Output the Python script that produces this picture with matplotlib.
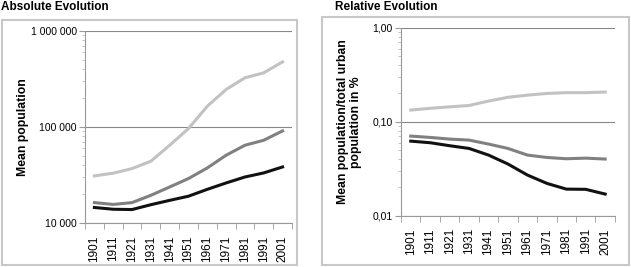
import matplotlib.pyplot as plt
from matplotlib.patches import Rectangle
from matplotlib.ticker import FixedLocator, LogLocator, NullFormatter

plt.rcParams['font.family'] = ['Liberation Sans', 'DejaVu Sans']

years = ['1901', '1911', '1921', '1931', '1941', '1951', '1961', '1971', '1981', '1991', '2001']

# absolute mean population
abs_light = [30900, 33000, 36800, 43900, 64400, 96000, 164000, 245000, 324000, 365000, 475000]
abs_mid = [16300, 15600, 16300, 19400, 23700, 29000, 37400, 50700, 64400, 72600, 90800]
abs_dark = [14500, 13900, 13800, 15500, 17200, 19000, 22400, 26100, 30100, 33200, 38300]

# relative share of total urban population
rel_light = [0.133, 0.139, 0.144, 0.149, 0.166, 0.182, 0.192, 0.200, 0.204, 0.204, 0.207]
rel_mid = [0.0704, 0.0681, 0.0654, 0.0638, 0.0579, 0.0520, 0.0442, 0.0417, 0.0404, 0.0410, 0.0401]
rel_dark = [0.0622, 0.0598, 0.0556, 0.0520, 0.0442, 0.0355, 0.0271, 0.0221, 0.0192, 0.0191, 0.0170]

colors = ['#c2c2c2', '#808080', '#111111']


def style_axis(ax, ymin, ymax, yticks, ylabels, ylabel):
    ax.set_yscale('log')
    ax.set_ylim(ymin, ymax)
    ax.set_xlim(-0.5, len(years) - 0.5)
    ax.set_xticks(range(len(years)))
    ax.set_xticklabels(years, rotation=90, fontsize=8.5)
    ax.xaxis.set_minor_locator(FixedLocator([i - 0.5 for i in range(len(years) + 1)]))
    ax.tick_params(axis='x', which='major', length=0, pad=9)
    ax.tick_params(axis='x', which='minor', length=4, color='#999999', direction='out')
    ax.set_yticks(yticks)
    ax.set_yticklabels(ylabels, fontsize=7.5)
    ax.yaxis.set_minor_locator(LogLocator(base=10, subs=range(2, 10)))
    ax.yaxis.set_minor_formatter(NullFormatter())
    ax.tick_params(axis='y', which='major', length=4, color='#999999', direction='out', pad=2)
    ax.tick_params(axis='y', which='minor', length=2, color='#bbbbbb', direction='out')
    ax.grid(True, axis='y', which='major', color='#888888', linewidth=0.8)
    for side in ['top', 'right']:
        ax.spines[side].set_visible(False)
    for side in ['left', 'bottom']:
        ax.spines[side].set_color('#999999')
    ax.set_ylabel(ylabel, fontsize=8.8, fontweight='bold')


fig = plt.figure(figsize=(6.31, 2.67), dpi=100)

# panel frames
fig.patches.append(Rectangle((2 / 631, 2 / 267), 295 / 631, 245 / 267, transform=fig.transFigure,
                             fill=False, edgecolor='#c8c8c8', linewidth=1.5))
fig.patches.append(Rectangle((322 / 631, 2 / 267), 307 / 631, 248 / 267, transform=fig.transFigure,
                             fill=False, edgecolor='#c8c8c8', linewidth=1.5))

fig.text(0.002, 0.997, 'Absolute Evolution', fontsize=8.5, fontweight='bold', va='top', ha='left')
fig.text(0.531, 0.997, 'Relative Evolution', fontsize=8.5, fontweight='bold', va='top', ha='left')

ax1 = fig.add_axes([0.1347, 0.1648, 0.328, 0.720])
for vals, c in zip([abs_light, abs_mid, abs_dark], colors):
    ax1.plot(range(len(years)), vals, color=c, linewidth=2.2)
style_axis(ax1, 1e4, 1e6, [1e4, 1e5, 1e6], ['10 000', '100 000', '1 000 000'], 'Mean population')
ax1.yaxis.set_label_coords(-0.27, 0.5)

ax2 = fig.add_axes([0.6355, 0.192, 0.339, 0.704])
for vals, c in zip([rel_light, rel_mid, rel_dark], colors):
    ax2.plot(range(len(years)), vals, color=c, linewidth=2.2)
style_axis(ax2, 0.01, 1.0, [0.01, 0.1, 1.0], ['0,01', '0,10', '1,00'],
           'Mean population/total urban\npopulation in %')
ax2.yaxis.set_label_coords(-0.18, 0.5)

fig.savefig('out.png', dpi=100)
